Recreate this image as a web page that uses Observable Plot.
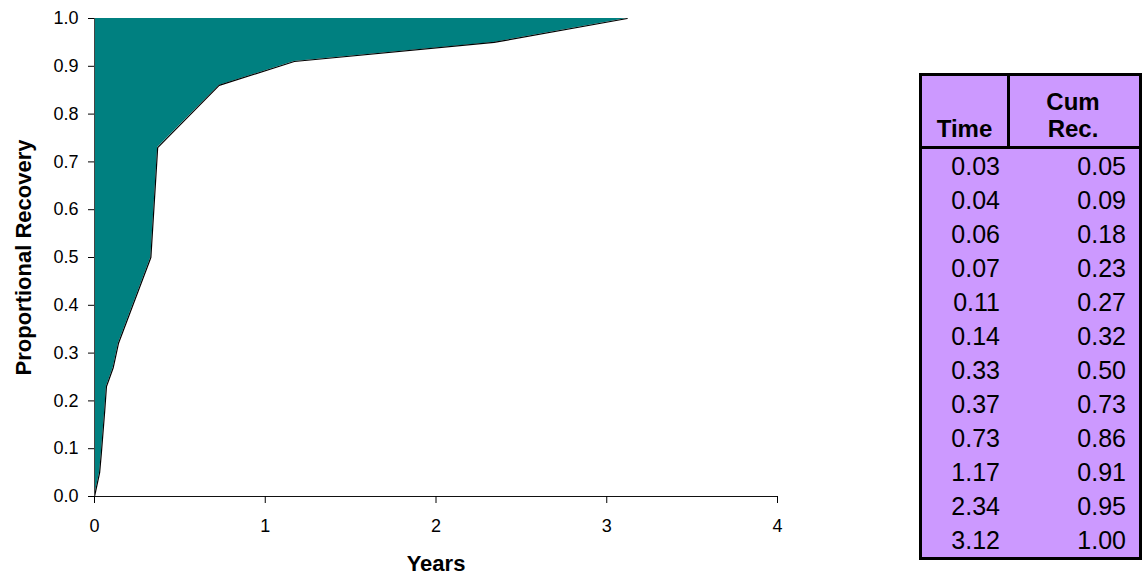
<!DOCTYPE html>
<html>
<head>
<meta charset="utf-8">
<script src="https://cdn.jsdelivr.net/npm/d3@7"></script>
<script src="https://cdn.jsdelivr.net/npm/@observablehq/plot@0.6"></script>
<style>
  body { margin: 0; background: #fff; font-family: "Liberation Sans", Arial, sans-serif; }
  #wrap { position: relative; width: 1144px; height: 578px; overflow: hidden; }
  #recTable {
    position: absolute; left: 919px; top: 73px; width: 217px;
    border: 3px solid #000; background: #cc99ff; color: #000;
  }
  #recTable .head { display: flex; height: 70px; border-bottom: 3px solid #000; }
  #recTable .head div {
    display: flex; align-items: flex-end; justify-content: center; text-align: center;
    font-weight: bold; font-size: 24px; line-height: 27px; padding-bottom: 4px; box-sizing: border-box;
  }
  #recTable .head .c0 { width: 88px; border-right: 3px solid #000; }
  #recTable .head .c1 { width: 126px; }
  #recTable .row { display: flex; height: 34px; align-items: center; font-size: 25px; }
  #recTable .row div { text-align: right; box-sizing: border-box; }
  #recTable .row .c0 { width: 91px; padding-right: 13px; }
  #recTable .row .c1 { width: 126px; padding-right: 13px; }
</style>
</head>
<body>
<div id="wrap"></div>
<script>
// Cumulative proportion recovered versus elapsed time (years)
const times  = [0.03, 0.04, 0.06, 0.07, 0.11, 0.14, 0.33, 0.37, 0.73, 1.17, 2.34, 3.12];
const cumRec = [0.05, 0.09, 0.18, 0.23, 0.27, 0.32, 0.50, 0.73, 0.86, 0.91, 0.95, 1.00];

// the curve begins at the origin
const startTime = 0;
const startRec = 0;

const xTicks = [0, 1, 2, 3, 4];
const yTicks = [0, 0.1, 0.2, 0.3, 0.4, 0.5, 0.6, 0.7, 0.8, 0.9, 1.0];

const xTitle = "Years";
const yTitle = "Proportional Recovery";
const tableHeaders = ["Time", "Cum<br>Rec."];

const series = [{time: startTime, rec: startRec}]
  .concat(times.map((t, i) => ({time: t, rec: cumRec[i]})));

const font = "'Liberation Sans', Arial, sans-serif";

const chart = Plot.plot({
  width: 1144,
  height: 578,
  marginLeft: 94,
  marginRight: 367,
  marginTop: 18,
  marginBottom: 82,
  x: {domain: [0, 4]},
  y: {domain: [0, 1]},
  style: {fontFamily: font, fontSize: "18px", color: "#000", background: "transparent", overflow: "visible"},
  marks: [
    // shaded region between the recovery curve and full recovery
    Plot.areaY(series, {x: "time", y1: "rec", y2: 1, fill: "#008080"}),
    Plot.line(series, {x: "time", y: "rec", stroke: "#000", strokeWidth: 1.2}),
    Plot.ruleX([0], {stroke: "#444"}),
    Plot.ruleY([0], {stroke: "#111"}),
    Plot.axisX({ticks: xTicks, tickSize: 7, tickPadding: 16, tickFormat: d => String(d), label: null}),
    Plot.axisY({ticks: yTicks, tickSize: 6, tickPadding: 10, tickFormat: d3.format(".1f"), label: null}),
    Plot.text([xTitle], {frameAnchor: "bottom", dy: 67, lineAnchor: "middle", textAnchor: "middle", fontWeight: "bold", fontSize: 22}),
    Plot.text([yTitle], {frameAnchor: "left", dx: -71, rotate: -90, lineAnchor: "middle", textAnchor: "middle", fontWeight: "bold", fontSize: 22})
  ]
});

const wrap = document.getElementById("wrap");
wrap.appendChild(chart);

// data table beside the chart
const tbl = d3.select(wrap).append("div").attr("id", "recTable");
const head = tbl.append("div").attr("class", "head");
head.selectAll("div").data(tableHeaders).join("div")
  .attr("class", (d, i) => "c" + i)
  .html(d => d);
const rows = tbl.selectAll("div.row").data(times.map((t, i) => [t, cumRec[i]])).join("div").attr("class", "row");
rows.selectAll("div").data(d => d).join("div")
  .attr("class", (d, i) => "c" + i)
  .text(d => d.toFixed(2));
</script>
</body>
</html>
